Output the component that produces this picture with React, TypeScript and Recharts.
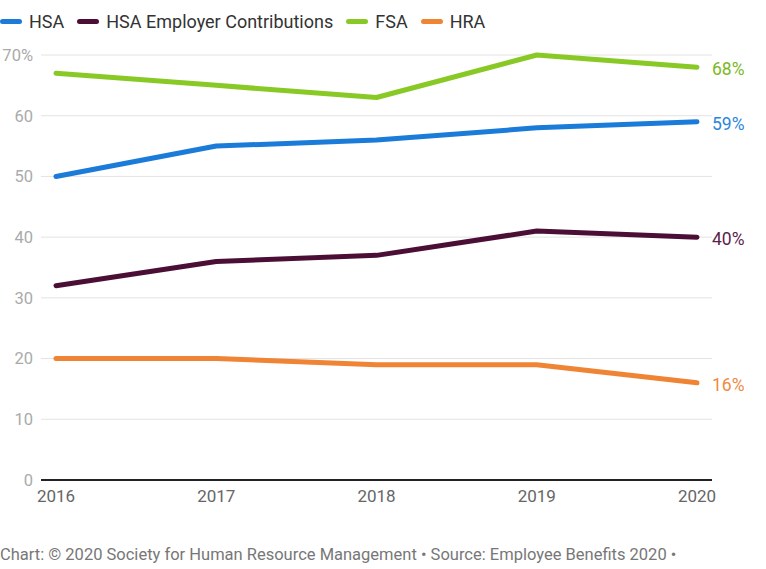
import { LineChart, Line, XAxis, YAxis, CartesianGrid } from 'recharts'

const years = ['2016', '2017', '2018', '2019', '2020']
const hsa = [50, 55, 56, 58, 59]
const hsaEmployer = [32, 36, 37, 41, 40]
const fsa = [67, 65, 63, 70, 68]
const hra = [20, 20, 19, 19, 16]
const yTicks = [0, 10, 20, 30, 40, 50, 60, 70]

const series = [
  { key: 'hsa', name: 'HSA', color: '#1b7bd8', labelColor: '#2a86dc' },
  { key: 'hsaEmployer', name: 'HSA Employer Contributions', color: '#4b0f36', labelColor: '#5c2349' },
  { key: 'fsa', name: 'FSA', color: '#88c926', labelColor: '#7bb81f' },
  { key: 'hra', name: 'HRA', color: '#f08435', labelColor: '#ef8a3f' },
]

const data = years.map((year, i) => ({
  year,
  hsa: hsa[i],
  hsaEmployer: hsaEmployer[i],
  fsa: fsa[i],
  hra: hra[i],
}))

const font = 'Roboto, "Noto Sans", sans-serif'

// label only on the last point, to the right of the line end
const endLabel = (color: string) => (props: any) => {
  const { x, y, index, value } = props
  if (index !== years.length - 1) return null
  return (
    <text x={x + 15} y={y} dy={8} fill={color} fontSize={17.5} fontFamily={font}>
      {value}%
    </text>
  )
}

export default function App() {
  return (
    <div style={{ position: 'absolute', left: 0, top: 0, width: 766, height: 569, background: '#fff', fontFamily: font }}>
      {/* Legend */}
      <div style={{ position: 'absolute', left: 0, top: 11, display: 'flex', alignItems: 'center', fontSize: 18, color: '#333' }}>
        {series.map(s => (
          <div key={s.key} style={{ display: 'flex', alignItems: 'center', marginRight: 13 }}>
            <span style={{ display: 'inline-block', width: 22, height: 5, borderRadius: 3, background: s.color, marginRight: 7 }} />
            <span>{s.name}</span>
          </div>
        ))}
      </div>

      <LineChart
        width={766}
        height={569}
        data={data}
        margin={{ top: 55, right: 54, left: 0, bottom: 59 }}
      >
        <CartesianGrid vertical={false} stroke="#e3e3e3" strokeWidth={1} />
        <XAxis
          dataKey="year"
          padding={{ left: 15, right: 15 }}
          axisLine={{ stroke: '#222', strokeWidth: 2 }}
          tickLine={false}
          tick={{ fill: '#666', fontSize: 17, fontFamily: font }}
          tickMargin={4}
          height={30}
          interval={0}
        />
        <YAxis
          domain={[0, 70]}
          ticks={yTicks}
          width={41}
          axisLine={false}
          tickLine={false}
          tickFormatter={(v: number) => (v === 70 ? '70%' : String(v))}
          tick={{ fill: '#aaa', fontSize: 16.5, fontFamily: font }}
        />
        {series.map(s => (
          <Line
            key={s.key}
            dataKey={s.key}
            name={s.name}
            stroke={s.color}
            strokeWidth={5}
            strokeLinecap="round"
            strokeLinejoin="round"
            dot={false}
            activeDot={false}
            isAnimationActive={false}
            label={endLabel(s.labelColor)}
          />
        ))}
      </LineChart>

      {/* Footer */}
      <div style={{ position: 'absolute', left: 0, top: 545, fontSize: 16.5, color: '#777', whiteSpace: 'nowrap' }}>
        Chart: © 2020 Society for Human Resource Management • Source: Employee Benefits 2020 •
      </div>
    </div>
  )
}
